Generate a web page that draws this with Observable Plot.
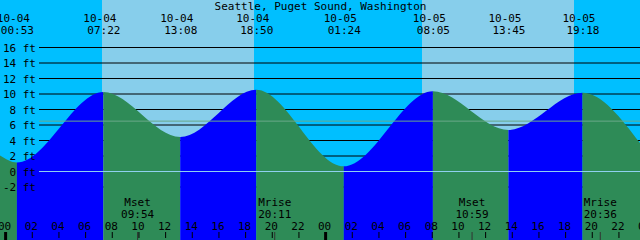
<!DOCTYPE html>
<html>
<head>
<meta charset="utf-8">
<script src="https://cdn.jsdelivr.net/npm/d3@7"></script>
<script src="https://cdn.jsdelivr.net/npm/@observablehq/plot@0.6"></script>
<style>
  html, body { margin: 0; padding: 0; background: #00bfff; }
  #chart svg { display: block; }
</style>
</head>
<body>
<div id="chart"></div>
<script>
// ---------- data ----------
const title = "Seattle, Puget Sound, Washington";
const viewStart = "10-03 23:37";
const viewEnd = "10-05 23:37";

// tide extremes (high / low) with heights in ft
const tideTimes = ["10-04 00:53", "10-04 07:22", "10-04 13:08", "10-04 18:50",
                   "10-05 01:24", "10-05 08:05", "10-05 13:45", "10-05 19:18"];
const tideHeights = [1.1, 10.2, 4.4, 10.5, 0.6, 10.3, 5.3, 10.1];
// tide heights at the left and right edges of the view
const startHeight = 2.0;
const endHeight = 3.6;

// sunrise / sunset boundaries
const skyTimes = ["10-03 23:37", "10-04 07:16", "10-04 18:40", "10-05 07:16", "10-05 18:40", "10-05 23:37"];
const skyKinds = ["night", "day", "night", "day", "night"];

// moon events
const moonNames = ["Mset", "Mrise", "Mset", "Mrise"];
const moonTimes = ["10-04 09:54", "10-04 20:11", "10-05 10:59", "10-05 20:36"];

// y axis ticks (ft) and mean sea level
const yTicks = [-2, 0, 2, 4, 6, 8, 10, 12, 14, 16];
const msl = 6.5;

// ---------- styles ----------
const nightColor = "#00bfff";
const dayColor = "#87ceeb";
const risingColor = "#0000ff";
const fallingColor = "#2e8b57";
const datumColor = "#8fd0f0";
const mslColor = "#6aa88a";
const yBottom = -8.903, yTop = 22.065;

// ---------- build ----------
const P = d3.utcParse("%m-%d %H:%M");
const t0 = P(viewStart), t1 = P(viewEnd);
const curvePts = [{t: t0, h: startHeight},
  ...tideTimes.map((s, i) => ({t: P(s), h: tideHeights[i]})),
  {t: t1, h: endHeight}];
const segs = d3.pairs(curvePts).map(([a, b]) => ({x1: a.t, x2: b.t, fill: b.h > a.h ? risingColor : fallingColor}));
const sky = d3.pairs(skyTimes.map(P)).map(([a, b], i) => ({x1: a, x2: b, fill: skyKinds[i] === "day" ? dayColor : nightColor}));
const events = tideTimes.map(s => ({t: P(s), date: s.slice(0, 5), time: s.slice(6)}));
const moon = moonTimes.map((s, i) => ({t: P(s), name: moonNames[i], time: s.slice(6)}));
const hours = d3.utcHour.every(2).range(d3.utcDay.ceil(t0), d3.utcHour.offset(d3.utcDay.ceil(t1), 1));
const midnights = hours.filter(d => d.getUTCHours() === 0);
const evenHours = hours.filter(d => d.getUTCHours() !== 0);
const hh = d => String(d.getUTCHours()).padStart(2, "0");
const T = {fill: "black", lineAnchor: "middle"};

const chart = Plot.plot({
  width: 640,
  height: 240,
  margin: 0,
  x: {type: "utc", domain: [t0, t1], axis: null},
  y: {domain: [yBottom, yTop], axis: null},
  color: {type: "identity"},
  style: {fontFamily: "'DejaVu Sans Mono', monospace", fontSize: "11px", background: nightColor, overflow: "hidden", color: "black"},
  marks: [
    Plot.rect(sky, {x1: "x1", x2: "x2", fill: "fill"}),
    Plot.ruleY(yTicks, {stroke: "black", insetLeft: 39}),
    Plot.rect(segs, {x1: "x1", x2: "x2", fill: "fill"}),
    Plot.areaY(curvePts, {x: "t", y1: yBottom, y2: "h", curve: "monotone-x", fill: "black"}),
    Plot.ruleY([0], {stroke: datumColor, insetLeft: 39}),
    Plot.ruleY([msl], {stroke: mslColor, insetLeft: 39}),
    Plot.text([title], {...T, text: d => d, frameAnchor: "top", dy: 5.8}),
    Plot.text(events, {...T, x: "t", text: "date", frameAnchor: "top", dy: 17.6, dx: -4}),
    Plot.text(events, {...T, x: "t", text: "time", frameAnchor: "top", dy: 29.6}),
    Plot.text(yTicks, {...T, y: d => d, text: d => `${d} ft`, frameAnchor: "left", textAnchor: "end", dx: 35.5, dy: 0.5}),
    Plot.text(moon, {...T, x: "t", text: "name", frameAnchor: "bottom", dy: -37.7}),
    Plot.text(moon, {...T, x: "t", text: "time", frameAnchor: "bottom", dy: -26.2}),
    Plot.text(hours, {...T, x: d => d, text: hh, frameAnchor: "bottom", dy: -13.7, dx: -1}),
    Plot.ruleX(evenHours, {x: d => d, stroke: "black", insetTop: 232, insetBottom: 2}),
    Plot.ruleX(midnights, {x: d => d, stroke: "black", strokeWidth: 3, insetTop: 232}),
    Plot.ruleX(moon, {x: "t", stroke: "#333", insetTop: 232})
  ]
});

// clip the rising/falling colour bands to the tide curve area
(function clipTide() {
  const ns = "http://www.w3.org/2000/svg";
  const areaG = chart.querySelector('g[aria-label="area"]');
  const rectGs = chart.querySelectorAll('g[aria-label="rect"]');
  if (!areaG || rectGs.length < 2) return;
  const tideG = rectGs[1];
  const path = areaG.querySelector("path").cloneNode(true);
  if (areaG.getAttribute("transform")) path.setAttribute("transform", areaG.getAttribute("transform"));
  path.removeAttribute("fill");
  const clip = document.createElementNS(ns, "clipPath");
  clip.setAttribute("id", "tide-clip");
  clip.appendChild(path);
  const defs = document.createElementNS(ns, "defs");
  defs.appendChild(clip);
  chart.insertBefore(defs, chart.firstChild);
  const wrap = document.createElementNS(ns, "g");
  wrap.setAttribute("clip-path", "url(#tide-clip)");
  tideG.parentNode.insertBefore(wrap, tideG);
  wrap.appendChild(tideG);
  areaG.remove();
})();

document.getElementById("chart").appendChild(chart);
</script>
</body>
</html>
